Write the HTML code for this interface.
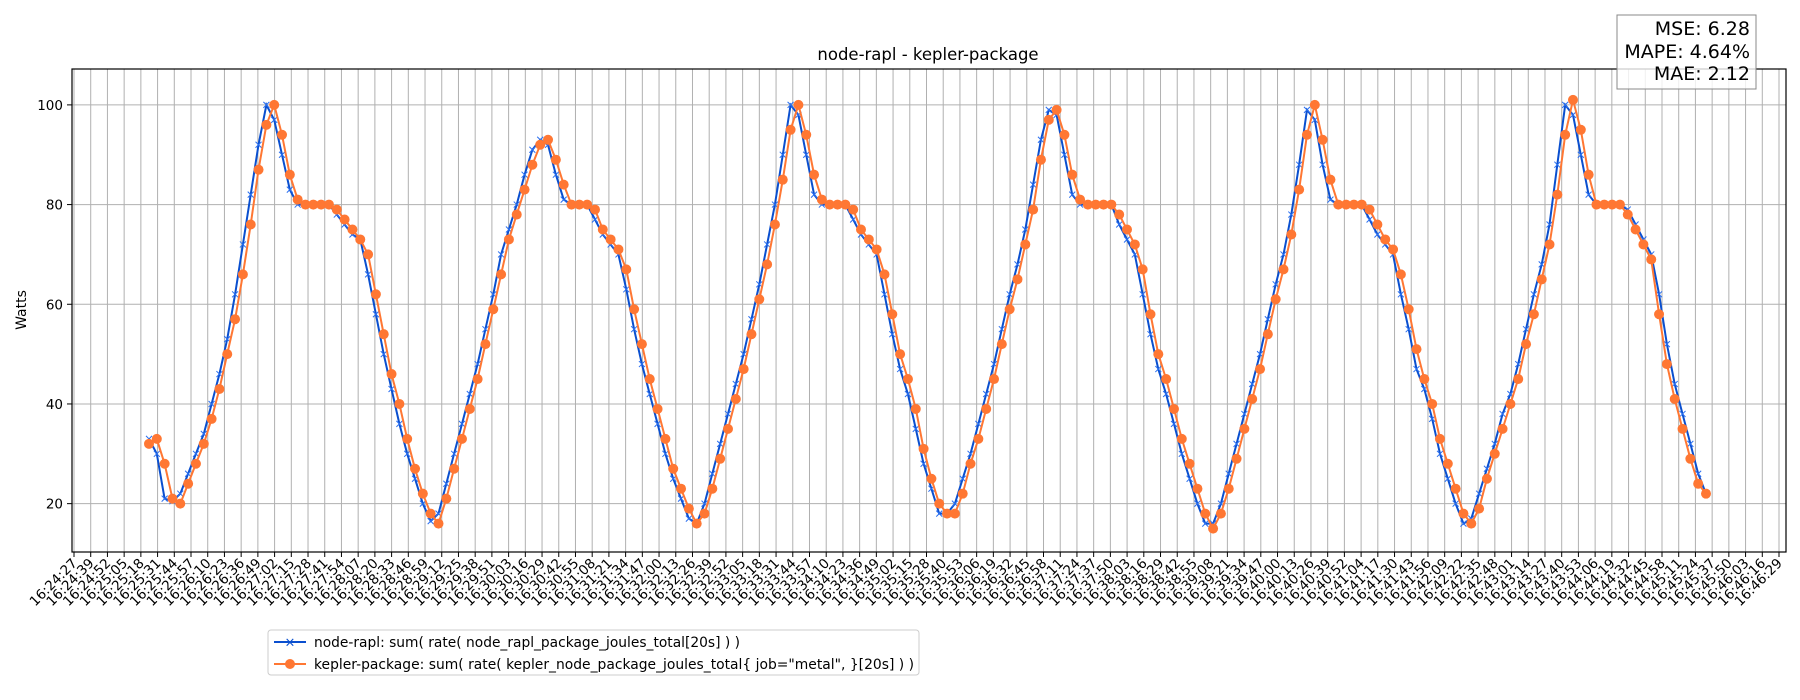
<!DOCTYPE html>
<html><head><meta charset="utf-8"><style>
html,body{margin:0;padding:0;background:#fff;width:1800px;height:700px;overflow:hidden}
svg{font-family:"DejaVu Sans","Liberation Sans",sans-serif}
</style></head><body>
<svg id="chart" width="1800" height="700" xmlns="http://www.w3.org/2000/svg">
<text x="928" y="60" font-size="16.5" text-anchor="middle">node-rapl - kepler-package</text>
<text x="0" y="0" font-size="14" text-anchor="middle" transform="translate(26,310) rotate(-90)">Watts</text>
<g id="grid"></g>
<g id="series"></g>
<rect x="72" y="69" width="1714" height="483" fill="none" stroke="#000" stroke-width="1.2"/>
<g id="axes"></g>
<g>
<rect x="268" y="630" width="651" height="45" rx="3" fill="#fff" fill-opacity="0.8" stroke="#ccc"/>
<g>
<line x1="274" y1="642" x2="306" y2="642" stroke="#0a4fcf" stroke-width="2"/>
<text x="290" y="646.5" font-size="13" fill="#0a4fcf" text-anchor="middle">×</text>
<text x="314" y="647" font-size="14" textLength="426" lengthAdjust="spacingAndGlyphs">node-rapl: sum( rate( node_rapl_package_joules_total[20s] ) )</text>
</g>
<g>
<line x1="274" y1="664" x2="306" y2="664" stroke="#ff7733" stroke-width="2"/>
<circle cx="290" cy="664" r="5" fill="#ff7733"/>
<text x="314" y="669" font-size="14" textLength="600" lengthAdjust="spacingAndGlyphs">kepler-package: sum( rate( kepler_node_package_joules_total{ job="metal", }[20s] ) )</text>
</g>
</g>
<g>
<rect x="1617" y="15" width="139" height="74" fill="#fff" fill-opacity="0.8" stroke="#888"/>
<text x="1750" y="35" font-size="19" text-anchor="end">MSE: 6.28</text>
<text x="1750" y="58" font-size="19" text-anchor="end">MAPE: 4.64%</text>
<text x="1750" y="80" font-size="19" text-anchor="end">MAE: 2.12</text>
</g>
</svg>
<script>
const yTicks=[20,40,60,80,100];
const tickStartSec=16*3600+24*60+27;
const tickEndSec=16*3600+46*60+29;
const tickCount=103;
const nodeRapl=[33,30,21,20.5,22,26,30,34,40,46,53,62,72,82,92,100,97,90,83,80,80,80,80,80,78,76,74,73,66,58,50,43,36,30,25,20,16.5,18,24,30,36,42,48,55,62,70,75,80,86,91,93,92,86,81,80,80,80,77,74,72,70,63,55,48,42,36,30,25,21,17,16,20,26,32,38,44,50,57,64,72,80,90,100,98,90,82,80,80,80,80,77,74,72,70,62,54,47,42,35,28,23,18,18,20,25,30,36,42,48,55,62,68,75,84,93,99,98,90,82,80,80,80,80,80,76,73,70,62,54,47,42,36,30,25,20,16,16,20,26,32,38,44,50,57,64,70,78,88,99,97,88,81,80,80,80,80,77,74,72,70,62,55,47,43,37,30,25,20,16,17,22,27,32,38,42,48,55,62,68,76,88,100,98,90,82,80,80,80,80,79,76,73,70,62,52,44,38,32,26,22];
const keplerPackage=[32,33,28,21,20,24,28,32,37,43,50,57,66,76,87,96,100,94,86,81,80,80,80,80,79,77,75,73,70,62,54,46,40,33,27,22,18,16,21,27,33,39,45,52,59,66,73,78,83,88,92,93,89,84,80,80,80,79,75,73,71,67,59,52,45,39,33,27,23,19,16,18,23,29,35,41,47,54,61,68,76,85,95,100,94,86,81,80,80,80,79,75,73,71,66,58,50,45,39,31,25,20,18,18,22,28,33,39,45,52,59,65,72,79,89,97,99,94,86,81,80,80,80,80,78,75,72,67,58,50,45,39,33,28,23,18,15,18,23,29,35,41,47,54,61,67,74,83,94,100,93,85,80,80,80,80,79,76,73,71,66,59,51,45,40,33,28,23,18,16,19,25,30,35,40,45,52,58,65,72,82,94,101,95,86,80,80,80,80,78,75,72,69,58,48,41,35,29,24,22];

const NS='http://www.w3.org/2000/svg';
const PL=72,PR=1786,PT=69,PB=552,YMIN=10.3,YMAX=107.2;
const TICK0=74,TICKSTEP=(1779-74)/(tickCount-1);
const DATA_X0=149,DATA_X1=1706;
function yScale(v){return PB-(v-YMIN)/(YMAX-YMIN)*(PB-PT);}
function xTick(k){return TICK0+k*TICKSTEP;}
function xData(i){return DATA_X0+i*(DATA_X1-DATA_X0)/(nodeRapl.length-1);}
function mk(tag,attrs,parent){const e=document.createElementNS(NS,tag);for(const k in attrs)e.setAttribute(k,attrs[k]);parent.appendChild(e);return e;}
const grid=document.getElementById('grid'),axes=document.getElementById('axes'),ser=document.getElementById('series');
function fmt(s){const h=Math.floor(s/3600),m=Math.floor(s%3600/60),ss=s%60;return h+':'+String(m).padStart(2,'0')+':'+String(ss).padStart(2,'0');}
for(let k=0;k<tickCount;k++){
  const x=xTick(k);
  const g=mk('line',{x1:x,x2:x,y1:PT,y2:PB,stroke:'#b0b0b0','stroke-width':1},grid);
  
  
  const t=mk('line',{x1:x,x2:x,y1:PB,y2:PB+5,stroke:'#000','stroke-width':1},axes);
  
  
  const sec=Math.floor(tickStartSec+k*(tickEndSec-tickStartSec)/(tickCount-1));
  const lb=mk('text',{x:0,y:0,'font-size':13.5,'text-anchor':'end',transform:`translate(${x+4},${PB+12}) rotate(-45)`},axes);
  lb.textContent=fmt(sec);
  
  
}
yTicks.forEach(v=>{
  const y=yScale(v);
  const g=mk('line',{x1:PL,x2:PR,y1:y,y2:y,stroke:'#b0b0b0','stroke-width':1},grid);
  
  
  const t=mk('line',{x1:PL-5,x2:PL,y1:y,y2:y,stroke:'#000'},axes);
  
  
  const lb=mk('text',{x:PL-9,y:y+5,'font-size':13.5,'text-anchor':'end'},axes);
  lb.textContent=v;
  
  
});
let d=nodeRapl.map((v,i)=>(i?'L':'M')+xData(i).toFixed(1)+','+yScale(v).toFixed(1)).join('');
const l1=mk('path',{d:d,fill:'none',stroke:'#0a4fcf','stroke-width':2},ser);


nodeRapl.forEach((v,i)=>{
  const x=xData(i),y=yScale(v);
  const m=mk('path',{d:`M${x-3},${y-3}L${x+3},${y+3}M${x-3},${y+3}L${x+3},${y-3}`,stroke:'#2a6ff0','stroke-width':1},ser);
  
  
});
const kx=i=>DATA_X0+i*(DATA_X1-DATA_X0)/(keplerPackage.length-1);
d=keplerPackage.map((v,i)=>(i?'L':'M')+kx(i).toFixed(1)+','+yScale(v).toFixed(1)).join('');
const l2=mk('path',{d:d,fill:'none',stroke:'#ff7733','stroke-width':2},ser);


keplerPackage.forEach((v,i)=>{
  const c=mk('circle',{cx:kx(i),cy:yScale(v),r:5,fill:'#ff7733'},ser);
  
  
});
</script>
</body></html>
